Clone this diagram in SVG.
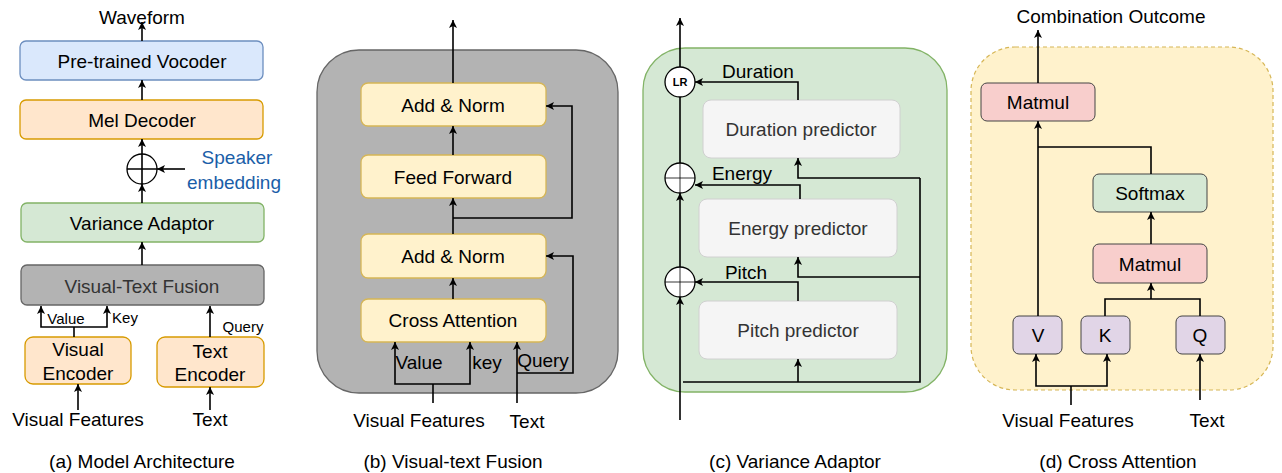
<svg xmlns="http://www.w3.org/2000/svg" width="1282" height="473" viewBox="0 0 1282 473">
<style>
text{font-family:"Liberation Sans",Arial,sans-serif;font-size:19px;fill:#000;text-anchor:middle;dominant-baseline:central}
.sm{font-size:15px}
.grey{fill:#333}
.blue{fill:#1a5ea8}
.bold{font-weight:bold;font-size:11px}
.ln{fill:none;stroke:#000;stroke-width:1.6}
.arr{fill:none;stroke:#000;stroke-width:1.6;marker-end:url(#ah)}
.blueBox{fill:#dae8fc;stroke:#6c8ebf;stroke-width:1.3}
.orange{fill:#ffe6cc;stroke:#d79b00;stroke-width:1.3}
.green{fill:#d5e8d4;stroke:#82b366;stroke-width:1.3}
.gray{fill:#b3b3b3;stroke:#666;stroke-width:1.3}
.yel{fill:#fff2cc;stroke:#d6b656;stroke-width:1.3}
.pred{fill:#f5f5f5;stroke:#d0d0d0;stroke-width:1}
.red{fill:#f8cecc;stroke:#444;stroke-width:1}
.sgreen{fill:#d5e8d4;stroke:#444;stroke-width:1}
.purple{fill:#e1d5e7;stroke:#444;stroke-width:1}
.circ{fill:#fff;stroke:#000;stroke-width:1.3}
</style>
<defs>
<marker id="ah" markerUnits="userSpaceOnUse" markerWidth="9" markerHeight="9" refX="8" refY="4.5" orient="auto">
<path d="M0,0.5 L8,4.5 L0,8.5 L2,4.5 z" fill="#000"/>
</marker>
</defs>

<!-- Panel (a) -->
<g id="a-waveform"><text x="142" y="17">Waveform</text></g>
<g id="a-vocoder"><rect class="blueBox" x="20" y="41" width="243" height="39" rx="6"/><text x="142" y="61">Pre-trained Vocoder</text></g>
<g id="a-mel"><rect class="orange" x="20" y="100" width="243" height="39" rx="6"/><text x="142" y="120">Mel Decoder</text></g>
<g id="a-plus"><circle class="circ" cx="142" cy="169" r="15"/><path class="ln" d="M127,169 H157 M142,154 V184" stroke-width="1.3"/></g>
<g id="a-speaker"><text class="blue" x="237" y="157">Speaker</text><text class="blue" x="234" y="182">embedding</text></g>
<g id="a-variance"><rect class="green" x="21" y="203" width="243" height="39" rx="6"/><text x="142" y="223">Variance Adaptor</text></g>
<g id="a-fusion"><rect class="gray" x="21" y="265" width="243" height="40" rx="6"/><text class="grey" x="142" y="286">Visual-Text Fusion</text></g>
<g id="a-visenc"><rect class="orange" x="25" y="337" width="106" height="47" rx="8"/><text x="78" y="349">Visual</text><text x="78" y="373">Encoder</text></g>
<g id="a-txtenc"><rect class="orange" x="157" y="337" width="107" height="50" rx="8"/><text x="210" y="351">Text</text><text x="210" y="374">Encoder</text></g>
<g id="a-labels">
<text class="sm" x="66" y="318">Value</text>
<text class="sm" x="125" y="317">Key</text>
<text class="sm" x="243" y="326">Query</text>
<text x="78" y="419">Visual Features</text>
<text x="210" y="419">Text</text>
<text x="142" y="461">(a) Model Architecture</text>
</g>

<!-- Panel (b) -->
<g id="b-container"><rect class="gray" x="317" y="50" width="301" height="343" rx="42"/></g>
<g id="b-addnorm1"><rect class="yel" x="361" y="83" width="185" height="43" rx="7"/><text x="453" y="105">Add &amp; Norm</text></g>
<g id="b-ff"><rect class="yel" x="361" y="155" width="185" height="43" rx="7"/><text x="453" y="177">Feed Forward</text></g>
<g id="b-addnorm2"><rect class="yel" x="361" y="234" width="185" height="44" rx="7"/><text x="453" y="256">Add &amp; Norm</text></g>
<g id="b-ca"><rect class="yel" x="361" y="299" width="185" height="43" rx="7"/><text x="453" y="320">Cross Attention</text></g>
<g id="b-labels">
<text x="419" y="362">Value</text>
<text x="487" y="362">key</text>
<text x="543" y="360">Query</text>
<text x="419" y="420">Visual Features</text>
<text x="527" y="421">Text</text>
<text x="453" y="461">(b) Visual-text Fusion</text>
</g>

<!-- Panel (c) -->
<g id="c-container"><rect class="green" x="643" y="48" width="304" height="344" rx="42"/></g>
<g id="c-duration"><rect class="pred" x="703" y="100" width="197" height="58" rx="8"/><text class="grey" x="801" y="129">Duration predictor</text></g>
<g id="c-energy"><rect class="pred" x="699" y="199" width="198" height="58" rx="8"/><text class="grey" x="798" y="228">Energy predictor</text></g>
<g id="c-pitch"><rect class="pred" x="699" y="301" width="198" height="58" rx="8"/><text class="grey" x="798" y="330">Pitch predictor</text></g>
<g id="c-labels">
<text x="758" y="71">Duration</text>
<text x="742" y="173">Energy</text>
<text x="746" y="272">Pitch</text>
<text x="795" y="461">(c) Variance Adaptor</text>
</g>

<!-- Panel (d) -->
<g id="d-container"><rect x="971" y="47" width="302" height="343" rx="44" fill="#fff2cc" stroke="#d6b656" stroke-width="1.2" stroke-dasharray="4 3"/></g>
<g id="d-matmul1"><rect class="red" x="981" y="83" width="114" height="38" rx="6"/><text x="1038" y="102">Matmul</text></g>
<g id="d-softmax"><rect class="sgreen" x="1093" y="174" width="114" height="38" rx="6"/><text x="1150" y="193">Softmax</text></g>
<g id="d-matmul2"><rect class="red" x="1093" y="244" width="114" height="39" rx="6"/><text x="1150" y="264">Matmul</text></g>
<g id="d-v"><rect class="purple" x="1013" y="316" width="49" height="38" rx="6"/><text x="1038" y="335">V</text></g>
<g id="d-k"><rect class="purple" x="1081" y="316" width="49" height="38" rx="6"/><text x="1105" y="335">K</text></g>
<g id="d-q"><rect class="purple" x="1176" y="316" width="49" height="38" rx="6"/><text x="1200" y="335">Q</text></g>
<g id="d-labels">
<text x="1111" y="16">Combination Outcome</text>
<text x="1068" y="420">Visual Features</text>
<text x="1207" y="420">Text</text>
<text x="1118" y="461">(d) Cross Attention</text>
</g>

<!-- Panel (c) circles drawn after container -->
<g id="c-lr"><circle class="circ" cx="680" cy="82" r="15"/><text class="bold" x="680" y="82">LR</text></g>
<g id="c-plus-energy"><circle class="circ" cx="680" cy="178" r="15"/><path d="M665,178 H695 M680,163 V193" stroke="#000" stroke-width="0.8" fill="none"/></g>
<g id="c-plus-pitch"><circle class="circ" cx="680" cy="282" r="15"/><path d="M665,282 H695 M680,267 V297" stroke="#000" stroke-width="0.8" fill="none"/></g>

<g id="connectors">
<!-- (a) -->
<path class="arr" d="M142,41 V22"/>
<path class="arr" d="M142,100 V80"/>
<path class="arr" d="M142,154 V139"/>
<path class="arr" d="M142,203 V184"/>
<path class="arr" d="M185,169 H157"/>
<path class="arr" d="M142,265 V242"/>
<path class="ln" d="M74,337 V327"/>
<path class="arr" d="M74,327 H41 V306"/>
<path class="arr" d="M74,327 H107 V306"/>
<path class="arr" d="M210,337 V306"/>
<path class="arr" d="M78,410 V384"/>
<path class="arr" d="M210,410 V387"/>
<!-- (b) -->
<path class="arr" d="M453,83 V20"/>
<path class="arr" d="M453,155 V126"/>
<path class="arr" d="M453,234 V198"/>
<path class="arr" d="M453,218 H572 V106 H546"/>
<path class="arr" d="M453,299 V278"/>
<path class="arr" d="M517,373 H573 V256 H546"/>
<path class="arr" d="M517,403 V342"/>
<path class="ln" d="M433,403 V384"/>
<path class="arr" d="M433,384 H395 V342"/>
<path class="arr" d="M433,384 H470 V342"/>
<!-- (c) -->
<path class="arr" d="M680,420 V297"/>
<path class="arr" d="M680,267 V193"/>
<path class="ln" d="M680,163 V97"/>
<path class="arr" d="M680,67 V18"/>
<path class="arr" d="M798,100 V82 H695"/>
<path class="arr" d="M800,199 V185 H695"/>
<path class="arr" d="M798,301 V282 H695"/>
<path class="ln" d="M683,382 H920 V178"/>
<path class="arr" d="M920,178 H798 V158"/>
<path class="arr" d="M920,277 H798 V257"/>
<path class="arr" d="M798,382 V359"/>
<!-- (d) -->
<path class="arr" d="M1038,83 V30"/>
<path class="arr" d="M1038,316 V121"/>
<path class="ln" d="M1038,147 H1151 V174"/>
<path class="arr" d="M1151,244 V212"/>
<path class="ln" d="M1105,316 V299 H1200 V316"/>
<path class="arr" d="M1151,299 V283"/>
<path class="ln" d="M1071,405 V386"/>
<path class="arr" d="M1071,386 H1036 V354"/>
<path class="arr" d="M1071,386 H1107 V354"/>
<path class="arr" d="M1200,400 V354"/>
</g>
</svg>
